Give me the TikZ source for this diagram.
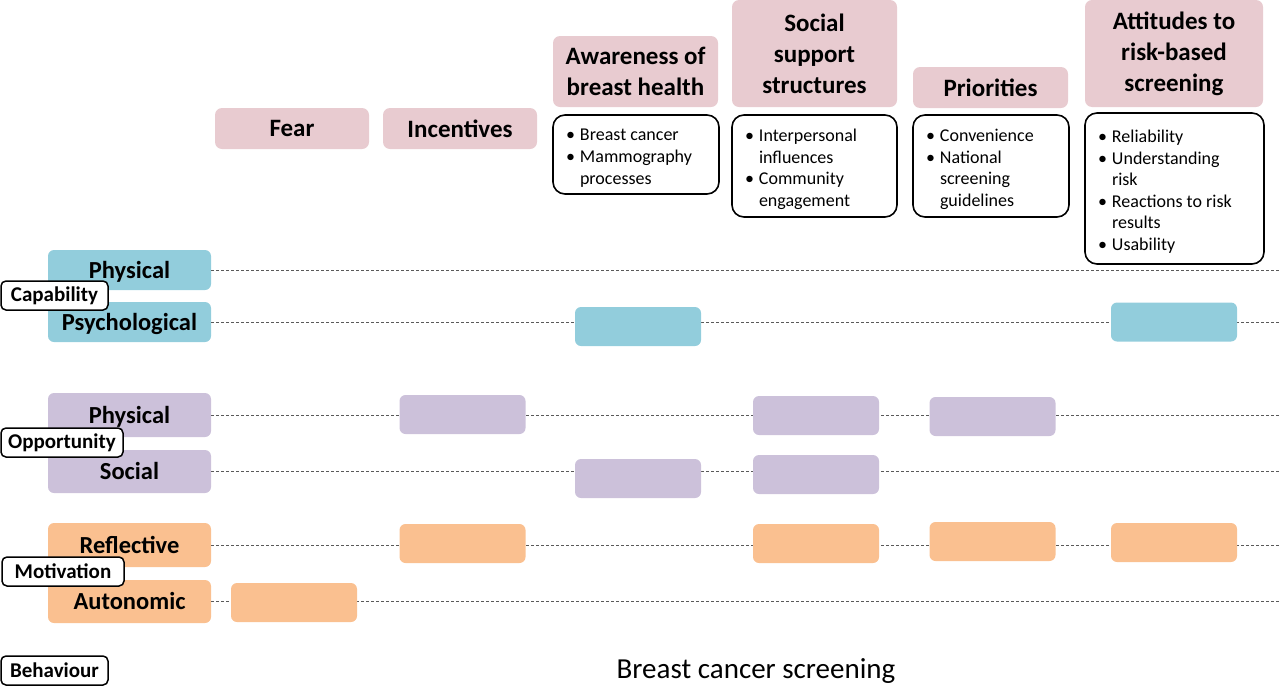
\documentclass[tikz,border=0pt]{standalone}
\usepackage{fontspec}
\setmainfont{Carlito}

\definecolor{hdrpink}{HTML}{E8CBD0}
\definecolor{capblue}{HTML}{92CDDC}
\definecolor{opppurple}{HTML}{CCC1DA}
\definecolor{motorange}{HTML}{FAC090}

\newcommand{\itm}{\makebox[14pt][l]{\textbullet}}
\newcommand{\ind}{\hspace*{14pt}}
\newcommand{\topgap}{\rule{0pt}{19pt}}

\tikzset{
  hdr/.style={fill=hdrpink, rounded corners=7pt, inner sep=0pt, align=center,
    font=\bfseries\fontsize{25}{31}\selectfont},
  listbox/.style={draw=black, line width=1.6pt, fill=white, rounded corners=12pt,
    inner xsep=13pt, inner ysep=0pt, align=flush left, font=\fontsize{18}{21.6}\selectfont},
  factor/.style={fill=#1, rounded corners=6pt, inner sep=0pt, minimum width=163pt,
    text height=18pt, text depth=2pt, font=\bfseries\fontsize{24.5}{29}\selectfont},
  comlabel/.style={draw=black, line width=1.5pt, fill=white, rounded corners=5pt,
    inner sep=0pt, minimum height=29pt, font=\bfseries\fontsize{21}{25}\selectfont},
  cell/.style={fill=#1, rounded corners=6pt, minimum width=126pt, minimum height=39pt, inner sep=0pt},
  rowline/.style={densely dashed, gray!70!black, line width=0.8pt}
}

\begin{document}
\begin{tikzpicture}[x=1pt,y=-1pt]
  \useasboundingbox (0,0) rectangle (1280,686);
  \coordinate (rend) at (1280,0);

  % themes
  \node[hdr, minimum width=154pt, minimum height=41pt] (fear) at (292,128.5) {Fear};
  \node[hdr, minimum width=154pt, minimum height=41pt] (incent) at (460,128.5) {Incentives};
  \node[hdr, minimum width=165pt, minimum height=71pt] (aware) at (635.5,71.5) {Awareness of\\breast health};
  \node[hdr, minimum width=165pt, minimum height=107pt] (social) at (814.5,53.5) {Social\\support\\structures};
  \node[hdr, minimum width=155pt, minimum height=41pt] (prior) at (990.5,87.5) {Priorities};
  \node[hdr, minimum width=178pt, minimum height=107pt] (attit) at (1174,53.5) {Attitudes to\\risk-based\\screening};

  \node[listbox, text width=140pt, minimum height=79pt] (awarelist) at (636,154.5)
    {\topgap\itm Breast cancer\\ \itm Mammography\\ \ind processes};
  \node[listbox, text width=139pt, minimum height=102pt] (sociallist) at (814.5,166)
    {\topgap\itm Interpersonal\\ \ind influences\\ \itm Community\\ \ind engagement};
  \node[listbox, text width=130pt, minimum height=102pt] (priorlist) at (991,166)
    {\topgap\itm Convenience\\ \itm National\\ \ind screening\\ \ind guidelines};
  \node[listbox, text width=153pt, minimum height=151pt] (attitlist) at (1174.5,188.5)
    {\topgap\itm Reliability\\ \itm Understanding\\ \ind risk\\ \itm Reactions to risk\\ \ind results\\ \itm Usability};

  % COM-B components
  \node[factor=capblue, minimum height=40pt] (capphys) at (129.5,270) {Physical};
  \node[factor=capblue, minimum height=40pt] (cappsy) at (129.5,322) {Psychological};
  \node[factor=opppurple, minimum height=44pt] (oppphys) at (129.5,415) {Physical};
  \node[factor=opppurple, minimum height=43pt] (oppsoc) at (129.5,471.5) {Social};
  \node[factor=motorange, minimum height=44pt] (motref) at (129.5,545) {Reflective};
  \node[factor=motorange, minimum height=43pt] (motaut) at (129.5,601.5) {Autonomic};

  \foreach \f in {capphys,cappsy,oppphys,oppsoc,motref,motaut}
    \draw[rowline] (\f.east) -- (\f.east -| rend);

  \node[comlabel, minimum width=107pt] (capab) at (54.5,295.5) {Capability};
  \node[comlabel, minimum width=122pt] (oppor) at (62,442.5) {Opportunity};
  \node[comlabel, minimum width=122pt] (motiv) at (63,571.5) {Motivation};
  \node[comlabel, minimum width=107pt] (behav) at (54.5,670.5) {Behaviour};

  % mapping
  \node[cell=capblue] (c-aware-psy) at (638,326.5) {};
  \node[cell=capblue] (c-attit-psy) at (1174,322) {};
  \node[cell=opppurple] (c-incent-phys) at (462.5,414.5) {};
  \node[cell=opppurple] (c-social-phys) at (816,415.5) {};
  \node[cell=opppurple] (c-prior-phys) at (992.5,416.5) {};
  \node[cell=opppurple] (c-aware-soc) at (638,478.5) {};
  \node[cell=opppurple] (c-social-soc) at (816,474.5) {};
  \node[cell=motorange] (c-incent-ref) at (462.5,543.5) {};
  \node[cell=motorange] (c-social-ref) at (816,543.5) {};
  \node[cell=motorange] (c-prior-ref) at (992.5,541.5) {};
  \node[cell=motorange] (c-attit-ref) at (1174,542.5) {};
  \node[cell=motorange] (c-fear-aut) at (294,602.5) {};

  \node[font=\fontsize{29}{34}\selectfont] (title) at (756,671) {Breast cancer screening};
\end{tikzpicture}
\end{document}
